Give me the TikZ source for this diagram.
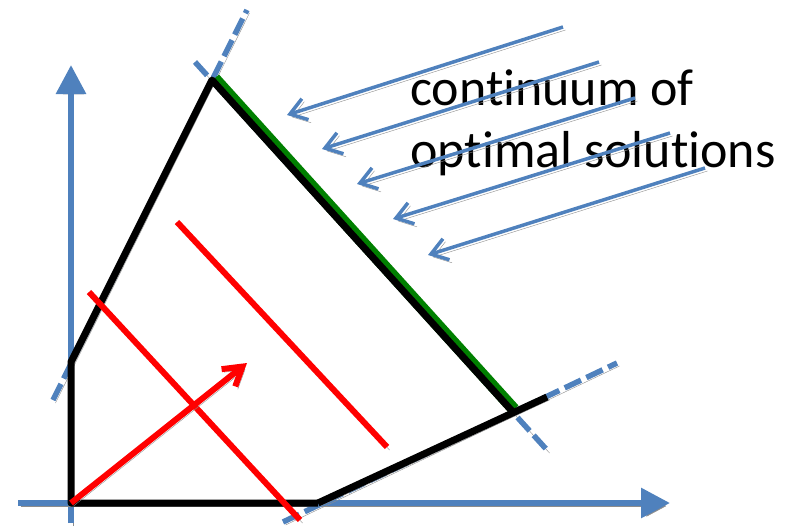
\documentclass[tikz,border=0pt]{standalone}
\usepackage{fontspec}
\newfontfamily\labelfont{Carlito}[RawFeature={-liga}]
\usetikzlibrary{arrows.meta}

\definecolor{axisblue}{RGB}{79,129,189}
\definecolor{edgegreen}{RGB}{0,128,0}

\begin{document}
\begin{tikzpicture}[
  x=1pt, y=-1pt,
  shadowed/.style={preaction={draw=black!45, transform canvas={shift={(2.5pt,-3pt)}}}},
  axis/.style={shadowed, draw=axisblue, line width=6pt, -{Triangle[length=29pt, width=29pt]}},
  ext/.style={shadowed, draw=axisblue, line width=5.5pt, dash pattern=on 18pt off 6pt},
  edge/.style={shadowed, draw=black, line width=7pt, line join=round},
  optedge/.style={draw=edgegreen, line width=12pt},
  level/.style={shadowed, draw=red, line width=6pt},
  grad/.style={level, -{Straight Barb[length=18pt, width=22pt]}},
  push/.style={shadowed, draw=axisblue, line width=3.5pt, -{Straight Barb[length=16pt, width=22pt]}},
]
\useasboundingbox (0,0) rectangle (800,527);
% corners of the feasible region
\coordinate (O) at (71,503);
\coordinate (A) at (71,362);
\coordinate (B) at (212,80);
\coordinate (C) at (512,411);
\coordinate (D) at (318,503);
\coordinate (E) at (547,397);
% axes
\coordinate (ybot) at (71,523);
\coordinate (ytop) at (71,65);
\coordinate (xleft) at (18,503);
\coordinate (xright) at (670,503);
\draw[axis] (ybot) -- (ytop);
\draw[axis] (xleft) -- (xright);
% constraint lines, extended
\coordinate (l1a) at (53,400);
\coordinate (l1b) at (247,10);
\coordinate (l2a) at (195,62);
\coordinate (l2b) at (547,450);
\coordinate (l3a) at (283,522);
\coordinate (l3b) at (617,363);
\draw[ext] (l1a) -- (l1b);
\draw[ext] (l2a) -- (l2b);
\draw[ext] (l3a) -- (l3b);
% optimal edge
\coordinate (Bg) at (214.5,78.5);
\coordinate (Cg) at (514,409.5);
\draw[optedge] (Bg) -- (Cg);
\draw[edge] (D) -- (O) -- (A) -- (B) -- (C);
\draw[edge] (D) -- (E);
% objective
\coordinate (r1a) at (89,292);
\coordinate (r1b) at (300,520);
\coordinate (r2a) at (177,222);
\coordinate (r2b) at (387,447);
\coordinate (tip) at (247,363);
\draw[level] (r1a) -- (r1b);
\draw[level] (r2a) -- (r2b);
\draw[grad] (O) -- (tip);
% label and pushing arrows
\node[font=\labelfont\fontsize{52}{62}\selectfont, align=left, anchor=base west, inner sep=0pt] (label) at (410,167) {continuum of\\optimal solutions};
\coordinate (s1) at (563,27);
\coordinate (s2) at (599,62);
\coordinate (s3) at (635,98);
\coordinate (s4) at (670,133);
\coordinate (s5) at (705,168);
\coordinate (t1) at (287,115);
\coordinate (t2) at (322,149);
\coordinate (t3) at (357,184);
\coordinate (t4) at (393,219);
\coordinate (t5) at (428,255);
\draw[push] (s1) -- (t1);
\draw[push] (s2) -- (t2);
\draw[push] (s3) -- (t3);
\draw[push] (s4) -- (t4);
\draw[push] (s5) -- (t5);
\end{tikzpicture}
\end{document}
